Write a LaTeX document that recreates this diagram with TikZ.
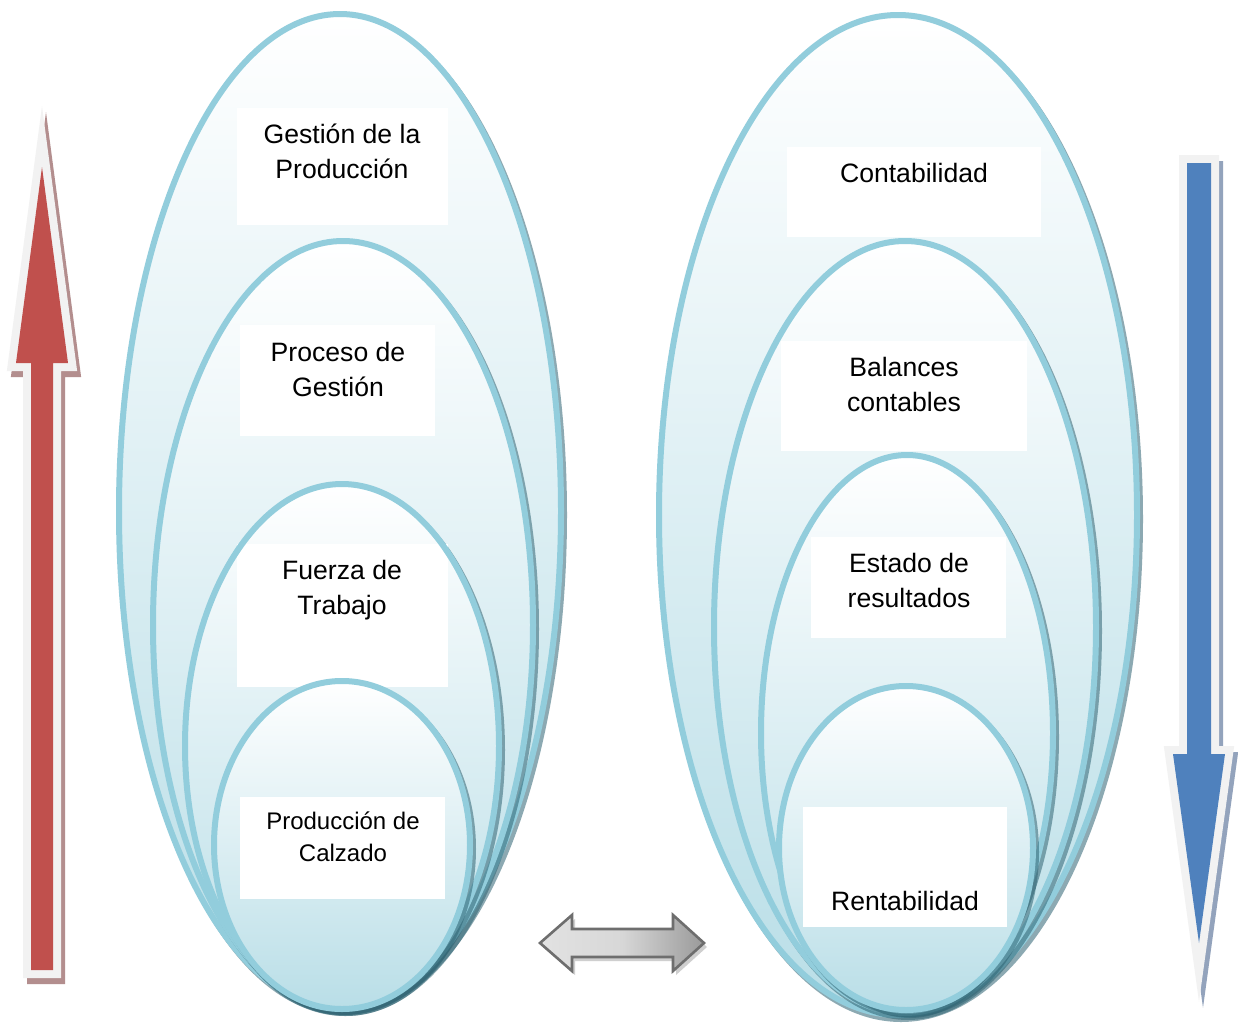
\documentclass[tikz,border=0pt]{standalone}
\usepackage{fontspec}
\setmainfont{Liberation Sans}
\definecolor{ellblue}{HTML}{92CDDC}
\definecolor{ellbot}{HTML}{B9DEE7}
\definecolor{ellmid}{HTML}{E6F3F6}
\definecolor{ellshadow}{HTML}{2F6473}
\definecolor{arrred}{HTML}{C0504D}
\definecolor{arrblue}{HTML}{4F81BD}
\definecolor{band}{HTML}{F2F2F2}
\definecolor{redshadow}{HTML}{B38E8E}
\definecolor{blueshadow}{HTML}{93A3BC}
\definecolor{dblout}{HTML}{6E6E6E}
\definecolor{dbllight}{HTML}{E2E2E2}
\definecolor{dbldark}{HTML}{9A9A9A}
\definecolor{dblshadow}{HTML}{CFCFCF}
\def\RedArrowPts{(31,970) -- (31,363) -- (16,363) -- (42,167) -- (68,363) -- (53,363) -- (53,970) -- cycle}
\def\BlueArrowPts{(1187,163) -- (1211,163) -- (1211,754) -- (1225,754) -- (1199,943) -- (1173,754) -- (1187,754) -- cycle}
\def\DblArrowPts{(540,943) -- (572,915) -- (572,929) -- (673,929) -- (673,915) -- (704,943) -- (673,971) -- (673,957) -- (572,957) -- (572,971) -- cycle}
\begin{document}
\begin{tikzpicture}[x=0.5pt,y=-0.5pt,
  ellfill/.style={top color=white, middle color=ellmid, bottom color=ellbot, draw=none},
  ellline/.style={draw=ellblue, line width=3pt},
  ellshade/.style={draw=ellshadow, draw opacity=0.55, line width=3pt},
  wbox/.style={fill=white, draw=none, inner sep=0pt},
  lbl/.style={align=center, font=\fontsize{13.3}{17.5}\selectfont, inner sep=0pt},
  lblsmall/.style={align=center, font=\fontsize{12}{16}\selectfont, inner sep=0pt},
  band/.style={draw=band, fill=band, line width=8pt, miter limit=20},
  bandshadow/.style={line width=8pt, miter limit=20}
]
\fill[white] (0,0) rectangle (1238,1023);
\useasboundingbox (0,0) rectangle (1238,1023);

% ---------------- left group ----------------
\draw[ellshade, shift={(3,4)}] (340,511) ellipse [x radius=221, y radius=497];
\path[ellfill] (340,511) ellipse [x radius=221, y radius=497];
\node[wbox, minimum width=105.5pt, minimum height=58.5pt] (bL1) at (342.5,166.5) {};
\draw[ellline] (340,511) ellipse [x radius=221, y radius=497];
\node[lbl] (tL1) at (342,151) {Gestión de la\\Producción};

\draw[ellshade, shift={(3,4)}] (343,625) ellipse [x radius=190, y radius=384];
\path[ellfill] (343,625) ellipse [x radius=190, y radius=384];
\node[wbox, minimum width=97.5pt, minimum height=55.5pt] (bL2) at (337.5,380.5) {};
\draw[ellline] (343,625) ellipse [x radius=190, y radius=384];
\node[lbl] (tL2) at (338,369) {Proceso de\\Gestión};

\draw[ellshade, shift={(3,4)}] (342,746) ellipse [x radius=157, y radius=262];
\path[ellfill] (342,746) ellipse [x radius=157, y radius=262];
\node[wbox, minimum width=105.5pt, minimum height=71.5pt] (bL3) at (342.5,615.5) {};
\draw[ellline] (342,746) ellipse [x radius=157, y radius=262];
\node[lbl] (tL3) at (342,590) {Fuerza de\\Trabajo};

\draw[ellshade, shift={(3,4)}] (342,845) ellipse [x radius=128, y radius=164];
\path[ellfill] (342,845) ellipse [x radius=128, y radius=164];
\node[wbox, minimum width=102.5pt, minimum height=51pt] (bL4) at (342.5,848) {};
\draw[ellline] (342,845) ellipse [x radius=128, y radius=164];
\node[lblsmall] (tL4) at (343,837) {Producción de\\Calzado};

% ---------------- right group ----------------
\draw[ellshade, shift={(3,4)}] (898,515) ellipse [x radius=239, y radius=500];
\path[ellfill] (898,515) ellipse [x radius=239, y radius=500];
\node[wbox, minimum width=127pt, minimum height=45pt] (bR1) at (914,192) {};
\draw[ellline] (898,515) ellipse [x radius=239, y radius=500];
\node[lbl] (tR1) at (914,173) {Contabilidad};

\draw[ellshade, shift={(3,4)}] (905,627) ellipse [x radius=191, y radius=386];
\path[ellfill] (905,627) ellipse [x radius=191, y radius=386];
\node[wbox, minimum width=123pt, minimum height=55pt] (bR2) at (904,396) {};
\draw[ellline] (905,627) ellipse [x radius=191, y radius=386];
\node[lbl] (tR2) at (904,384) {Balances\\contables};

\draw[ellshade, shift={(3,4)}] (907,733) ellipse [x radius=146, y radius=278];
\path[ellfill] (907,733) ellipse [x radius=146, y radius=278];
\node[wbox, minimum width=97.5pt, minimum height=50.5pt] (bR3) at (908.5,587.5) {};
\draw[ellline] (907,733) ellipse [x radius=146, y radius=278];
\node[lbl] (tR3) at (909,580) {Estado de\\resultados};

\draw[ellshade, shift={(3,4)}] (906,848) ellipse [x radius=127, y radius=162];
\path[ellfill] (906,848) ellipse [x radius=127, y radius=162];
\node[wbox, minimum width=102pt, minimum height=60pt] (bR4) at (905,867) {};
\draw[ellline] (906,848) ellipse [x radius=127, y radius=162];
\node[lbl] (tR4) at (905,901) {Rentabilidad};

% ---------------- red arrow (up) ----------------
\draw[bandshadow, draw=redshadow, fill=redshadow, shift={(4,6)}] \RedArrowPts;
\draw[band] \RedArrowPts;
\fill[arrred] \RedArrowPts;

% ---------------- blue arrow (down) ----------------
\draw[bandshadow, draw=blueshadow, fill=blueshadow, shift={(4,6)}] \BlueArrowPts;
\draw[band] \BlueArrowPts;
\fill[arrblue] \BlueArrowPts;

% ---------------- double arrow ----------------
\fill[dblshadow, shift={(3,4)}] \DblArrowPts;
\draw[draw=dblout, line width=1.3pt, left color=dbllight, right color=dbldark, middle color=dbllight!85!dbldark] \DblArrowPts;
\end{tikzpicture}
\end{document}
